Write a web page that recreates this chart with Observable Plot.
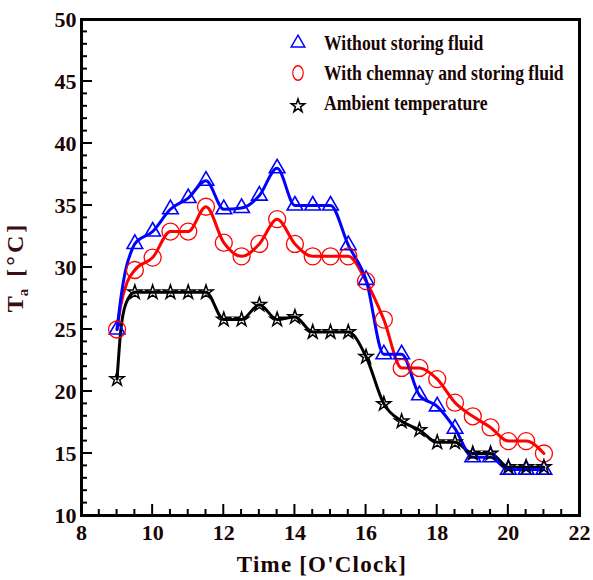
<!DOCTYPE html>
<html>
<head>
<meta charset="utf-8">
<script src="https://cdn.jsdelivr.net/npm/d3@7"></script>
<script src="https://cdn.jsdelivr.net/npm/@observablehq/plot@0.6"></script>
<style>
  html, body { margin: 0; padding: 0; background: #fff; }
  #chart { width: 593px; height: 580px; }
  svg { font-family: "Liberation Serif", "Times New Roman", serif; }
</style>
</head>
<body>
<div id="chart"></div>
<script>
// ---- data ----
const hours = [9, 9.5, 10, 10.5, 11, 11.5, 12, 12.5, 13, 13.5, 14, 14.5, 15, 15.5, 16, 16.5, 17, 17.5, 18, 18.5, 19, 19.5, 20, 20.5, 21];
const withoutFluid = [25, 31.9, 32.9, 34.7, 35.6, 37, 34.7, 34.8, 35.8, 38, 35, 35, 35, 31.8, 29, 23, 23, 19.7, 18.8, 17, 14.7, 14.7, 13.7, 13.7, 13.7];
const withChemnay  = [25, 29.8, 30.8, 32.9, 32.9, 34.9, 32, 30.9, 31.9, 33.9, 31.9, 30.9, 30.9, 30.9, 28.9, 25.8, 21.9, 21.9, 21, 19.1, 18, 17.1, 16, 16, 15];
const ambient      = [21, 28, 28, 28, 28, 28, 25.8, 25.8, 27, 25.8, 26, 24.8, 24.8, 24.8, 22.8, 19, 17.6, 16.9, 15.9, 15.9, 15, 15, 13.9, 13.9, 13.9];
// extra line-only points (steep morning rise)
const withoutRiseHours = [9.1, 9.24, 9.4];
const withoutRiseTemps = [27.4, 29.8, 31.3];
const chemnayRiseHours = [9.1, 9.28];
const chemnayRiseTemps = [26.9, 28.8];
const ambientRiseHours = [9.1, 9.25];
const ambientRiseTemps = [24.8, 27.1];

const seriesNames = ["Without storing fluid", "With chemnay and storing fluid", "Ambient temperature"];
const xTicks = [8, 10, 12, 14, 16, 18, 20, 22];
const yTicks = [10, 15, 20, 25, 30, 35, 40, 45, 50];
const xLabel = "Time [O'Clock]";
const yLabelMain = "T", yLabelSub = "a", yLabelRest = " [°C]";

// ---- styles ----
const colors = ["#0000ff", "#ff0000", "#000000"];
const W = 593, H = 580;
const mL = 81, mR = 14, mT = 19, mB = 65;
const plotW = W - mL - mR, plotH = H - mT - mB;
const font = "Liberation Serif, Times New Roman, serif";
const textColor = "#1a0505";

// ---- tables ----
const markerRows = [withoutFluid, withChemnay, ambient].map((vals, k) =>
  hours.map((t, i) => ({t, v: vals[i], s: seriesNames[k]})));
const riseH = [withoutRiseHours, chemnayRiseHours, ambientRiseHours];
const riseT = [withoutRiseTemps, chemnayRiseTemps, ambientRiseTemps];
const lineRows = markerRows.map((rows, k) =>
  rows.concat(riseH[k].map((t, i) => ({t, v: riseT[k][i], s: seriesNames[k]})))
      .sort((a, b) => a.t - b.t));

const xMinor = d3.range(xTicks[0], xTicks[xTicks.length - 1] + 0.001, 0.5);
const yMinor = d3.range(yTicks[0], yTicks[yTicks.length - 1] + 0.001, 1);

const marks = [
  Plot.axisY({ticks: yTicks, tickSize: 0, tickPadding: 5, label: null, fontSize: 22, fontWeight: "bold", fill: textColor}),
  Plot.axisX({ticks: xTicks, tickSize: 0, tickPadding: 9, label: null, fontSize: 22, fontWeight: "bold", fill: textColor}),
];
[2, 1, 0].forEach(k => {
  marks.push(Plot.line(lineRows[k], {x: "t", y: "v", stroke: colors[k], strokeWidth: 3, curve: "monotone-x"}));
});
marks.push(Plot.dot(markerRows[0], {x: "t", y: "v", symbol: "triangle", r: 5.8, stroke: colors[0], fill: "none", strokeWidth: 1.6}));
marks.push(Plot.dot(markerRows[1], {x: "t", y: "v", symbol: "circle", r: 8.5, stroke: colors[1], fill: "none", strokeWidth: 1.3}));
marks.push(Plot.dot(markerRows[2], {x: "t", y: "v", symbol: "star", r: 4.4, stroke: colors[2], fill: "none", strokeWidth: 1.5}));
marks.push(Plot.frame({stroke: "#000", strokeWidth: 3}));

const chart = Plot.plot({
  width: W, height: H,
  marginLeft: mL, marginRight: mR, marginTop: mT, marginBottom: mB,
  x: {domain: [8, 22]},
  y: {domain: [10, 50]},
  style: {fontFamily: font, background: "#fff"},
  marks
});
document.getElementById("chart").appendChild(chart);

const svg = d3.select(chart);
const xs = chart.scale("x"), ys = chart.scale("y");

// ---- inward ticks (positions from Plot's own scales) ----
const tickG = svg.append("g").attr("stroke", "#000").attr("stroke-width", 2);
yMinor.forEach(v => {
  const len = yTicks.includes(v) ? 11 : 6;
  const py = ys.apply(v);
  tickG.append("line").attr("x1", mL).attr("x2", mL + len).attr("y1", py).attr("y2", py);
});
xMinor.forEach(v => {
  const len = xTicks.includes(v) ? 11 : 6;
  const px = xs.apply(v);
  tickG.append("line").attr("x1", px).attr("x2", px).attr("y1", mT + plotH).attr("y2", mT + plotH - len);
});

// ---- axis titles ----
const yl = svg.append("text")
  .attr("transform", `translate(23,${mT + plotH / 2}) rotate(-90)`)
  .attr("text-anchor", "middle")
  .attr("font-family", font).attr("font-weight", "bold")
  .attr("font-size", 24).attr("fill", "#3a0c14");
yl.append("tspan").attr("letter-spacing", 0).text(yLabelMain);
yl.append("tspan").attr("font-size", 15).attr("dy", 5).attr("letter-spacing", 3).text(yLabelSub);
yl.append("tspan").attr("dy", -5).attr("letter-spacing", 3).text(yLabelRest);

svg.append("text")
  .attr("x", mL + plotW / 2 - 8).attr("y", H - 8)
  .attr("text-anchor", "middle")
  .attr("font-family", font).attr("font-weight", "bold")
  .attr("font-size", 23).attr("letter-spacing", 1.2).attr("fill", textColor)
  .text(xLabel);

// ---- legend (inside the frame, top right) ----
const legend = svg.append("g");
seriesNames.forEach((name, k) => {
  const cy = 43 + k * 30;
  const sym = k === 0 ? d3.symbolTriangle : k === 1 ? d3.symbolCircle : d3.symbolStar;
  const size = k === 0 ? 80 : k === 1 ? 140 : 55;
  legend.append("path")
    .attr("d", d3.symbol(sym, size)())
    .attr("transform", k === 1 ? `translate(298,${cy}) scale(0.78,1.08)` : `translate(298,${cy + (k === 2 ? 3 : 0)})`)
    .attr("fill", "none").attr("stroke", colors[k]).attr("stroke-width", 1.5);
  legend.append("text")
    .attr("transform", `translate(324,${cy + 7}) scale(0.82,1)`)
    .attr("text-anchor", "start")
    .attr("font-family", font).attr("font-weight", "bold")
    .attr("font-size", 21.5).attr("fill", textColor)
    .text(name);
});
</script>
</body>
</html>
